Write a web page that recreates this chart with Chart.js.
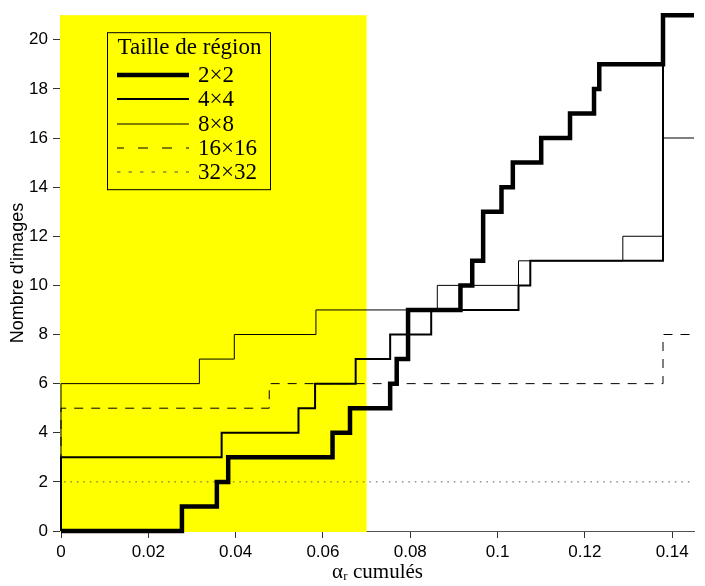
<!DOCTYPE html>
<html lang="fr">
<head>
  <meta charset="UTF-8">
  <title>Nombre d'images</title>
  <script src="https://cdn.jsdelivr.net/npm/chart.js"></script>
  <style>
    body { margin: 0; background: #fff; }
    canvas { display: block; }
  </style>
</head>
<body>
<canvas id="myChart" width="705" height="586"></canvas>
<script>
  // valeurs : (abscisse du saut, nouvelle valeur)
  const labels = ['2×2', '4×4', '8×8', '16×16', '32×32'];

  const x2 = [0, 0.0277, 0.0357, 0.0383, 0.0622, 0.0662, 0.0754, 0.0769, 0.0795, 0.0915, 0.0942, 0.0967, 0.1009, 0.1035, 0.110, 0.1166, 0.1221, 0.1233, 0.1379, 0.145];
  const y2 = [0, 1, 2, 3, 4, 5, 6, 7, 9, 10, 11, 13, 14, 15, 16, 17, 18, 19, 21, 21];

  const x4 = [0, 0, 0.0368, 0.0544, 0.0582, 0.0675, 0.0754, 0.0848, 0.1048, 0.1075, 0.1379, 0.145];
  const y4 = [0, 3, 4, 5, 6, 7, 8, 9, 10, 11, 21, 21];

  const x8 = [0, 0, 0.0317, 0.0397, 0.0584, 0.0862, 0.1048, 0.1287, 0.1379, 0.145];
  const y8 = [0, 6, 7, 8, 9, 10, 11, 12, 16, 16];

  const x16 = [0, 0, 0.0477, 0.1379, 0.145];
  const y16 = [0, 5, 6, 8, 8];

  const x32 = [0, 0, 0.145];
  const y32 = [0, 2, 2];

  const xTicks = [0, 0.02, 0.04, 0.06, 0.08, 0.1, 0.12, 0.14];
  const yTicks = [0, 2, 4, 6, 8, 10, 12, 14, 16, 18, 20];
  const zoneJaune = [0, 0.07];
  const titreLegende = 'Taille de région';

  const pts = (xs, ys) => xs.map((x, i) => ({x: x, y: ys[i]}));

  const sansFont = '"Liberation Sans", Arial, sans-serif';
  const serifFont = '"Liberation Serif", "DejaVu Serif", serif';

  // zone jaune, dessinée par-dessus les axes
  const fondJaune = {
    id: 'fondJaune',
    beforeDatasetsDraw(chart) {
      const {ctx, chartArea: a, scales} = chart;
      const x0 = scales.x.getPixelForValue(zoneJaune[0]);
      const x1 = scales.x.getPixelForValue(zoneJaune[1]);
      ctx.save();
      ctx.fillStyle = '#ffff00';
      ctx.fillRect(x0 - 1, a.top, x1 - x0 + 1, a.bottom - a.top + 1);
      ctx.restore();
    }
  };

  const legendeDash = [[], [], [], [10, 14], [3.5, 8]];
  const legendeOffset = [0, 0, 0, 3, 0];

  const legende = {
    id: 'legende',
    afterDatasetsDraw(chart) {
      const {ctx, chartArea: a} = chart;
      const x0 = a.left + 46, y0 = a.top + 17, w = 163, h = 157;
      ctx.save();
      ctx.strokeStyle = '#000';
      ctx.lineWidth = 1;
      ctx.strokeRect(x0 + 0.5, y0 + 0.5, w, h);
      ctx.fillStyle = '#000';
      ctx.font = '23px ' + serifFont;
      ctx.textAlign = 'center';
      ctx.textBaseline = 'alphabetic';
      ctx.fillText(titreLegende, x0 + w / 2 + 1, y0 + 22);
      chart.data.datasets.forEach((ds, i) => {
        const y = Math.round(y0 + 43 + i * 24.2);
        ctx.beginPath();
        ctx.lineWidth = ds.borderWidth;
        ctx.strokeStyle = ds.borderColor;
        ctx.setLineDash(legendeDash[i]);
        ctx.lineDashOffset = legendeOffset[i];
        ctx.moveTo(x0 + 10, y);
        ctx.lineTo(x0 + 82, y);
        ctx.stroke();
        ctx.setLineDash([]);
        ctx.textAlign = 'left';
        ctx.textBaseline = 'middle';
        ctx.fillText(ds.label, x0 + 91, y + 1);
      });
      ctx.restore();
    }
  };

  const base = {stepped: 'before', pointRadius: 0, fill: false, clip: false, borderColor: '#000'};

  new Chart(document.getElementById('myChart'), {
    type: 'line',
    data: {
      datasets: [
        Object.assign({}, base, {label: labels[0], data: pts(x2, y2), borderWidth: 4.5}),
        Object.assign({}, base, {label: labels[1], data: pts(x4, y4), borderWidth: 2}),
        Object.assign({}, base, {label: labels[2], data: pts(x8, y8), borderWidth: 1}),
        Object.assign({}, base, {label: labels[3], data: pts(x16, y16), borderWidth: 1, borderDash: [9, 8]}),
        Object.assign({}, base, {label: labels[4], data: pts(x32, y32), borderWidth: 1, borderDash: [1.5, 5], borderColor: '#555'})
      ]
    },
    options: {
      responsive: false,
      animation: false,
      layout: {padding: {top: 13, right: 11, left: 0, bottom: 0}},
      plugins: {
        legend: {display: false},
        tooltip: {enabled: false}
      },
      scales: {
        x: {
          type: 'linear',
          min: 0,
          max: 0.145,
          afterBuildTicks: s => { s.ticks = xTicks.map(v => ({value: v})); },
          afterFit: s => { s.height = 55; },
          grid: {drawOnChartArea: false, drawTicks: true, tickLength: 7, tickColor: '#333'},
          border: {display: true, color: '#555'},
          ticks: {
            color: '#000',
            padding: 4,
            maxRotation: 0,
            font: {family: sansFont, size: 17},
            callback: v => String(+v.toFixed(2))
          },
          title: {
            display: true,
            text: 'αᵣ cumulés',
            color: '#000',
            font: {family: serifFont, size: 21},
            padding: {top: 0, bottom: 1}
          }
        },
        y: {
          min: 0,
          max: 21,
          afterBuildTicks: s => { s.ticks = yTicks.map(v => ({value: v})); },
          afterFit: s => { s.width = 61; },
          grid: {drawOnChartArea: false, drawTicks: true, tickLength: 8, tickColor: '#333'},
          border: {display: true, color: '#555'},
          ticks: {
            color: '#000',
            padding: 5,
            font: {family: sansFont, size: 17}
          },
          title: {
            display: true,
            text: "Nombre d'images",
            color: '#000',
            font: {family: sansFont, size: 18},
            padding: {top: 7, bottom: 0}
          }
        }
      }
    },
    plugins: [fondJaune, legende]
  });
</script>
</body>
</html>
